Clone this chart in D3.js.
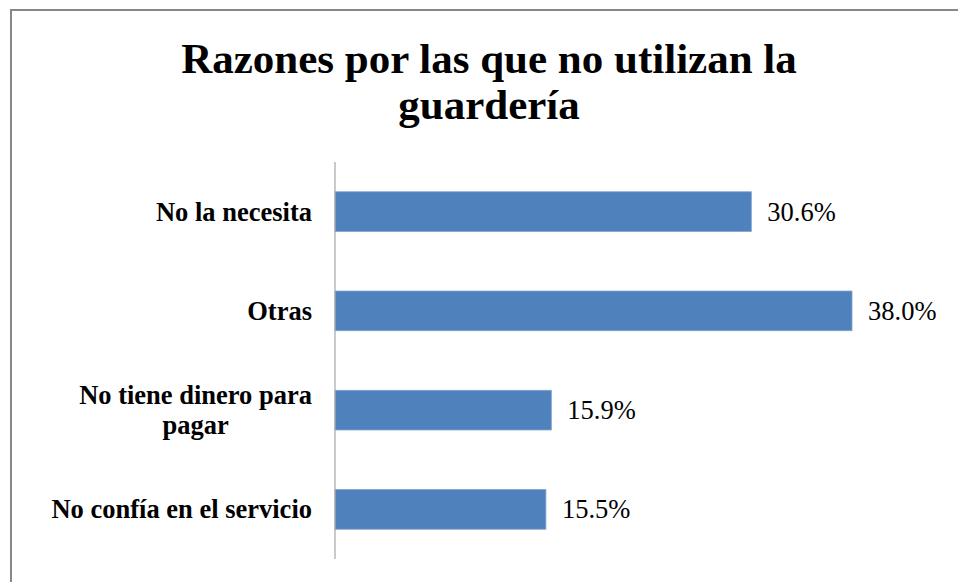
<!DOCTYPE html>
<html>
<head>
<meta charset="utf-8">
<script src="https://cdn.jsdelivr.net/npm/d3@7"></script>
<style>
  body { margin: 0; background: #fff; }
</style>
</head>
<body>
<div id="chart"></div>
<script>
var categories = ['No la necesita', 'Otras', 'No tiene dinero para pagar', 'No confía en el servicio'];
var categoryLines = [['No la necesita'], ['Otras'], ['No tiene dinero para', 'pagar'], ['No confía en el servicio']];
var values = [30.6, 38.0, 15.9, 15.5];
var titleLines = ['Razones por las que no utilizan la', 'guardería'];

var w = 958;
var h = 582;
var plotLeft = 335;
var plotTop = 162;
var plotBottom = 559;
var labelRight = 312;

var svg = d3.select('#chart')
  .append('svg')
  .attr('width', w)
  .attr('height', h);

// frame (right and bottom edges fall outside the picture)
svg.append('path')
  .attr('d', 'M11,' + h + ' V10 H' + w)
  .attr('fill', 'none')
  .attr('stroke', '#878787')
  .attr('stroke-width', 2);

// title
svg.selectAll('text.title')
  .data(titleLines)
  .enter()
  .append('text')
  .attr('class', 'title')
  .text(function (d) { return d; })
  .attr('x', 489)
  .attr('y', function (d, i) { return 73 + i * 46; })
  .attr('text-anchor', 'middle')
  .attr('font-family', 'Liberation Serif, Times New Roman, serif')
  .attr('font-weight', 'bold')
  .attr('font-size', '43px')
  .attr('fill', '#000');

var x = d3.scaleLinear()
  .domain([0, 38])
  .range([plotLeft, 852]);

var y = d3.scaleBand()
  .domain(categories)
  .range([plotTop, plotBottom])
  .paddingInner(0.6)
  .paddingOuter(0.3);

// bars
svg.selectAll('.bar')
  .data(values)
  .enter()
  .append('rect')
  .attr('class', 'bar')
  .attr('x', x(0))
  .attr('y', function (d, i) { return y(categories[i]); })
  .attr('width', function (d) { return x(d) - x(0); })
  .attr('height', y.bandwidth())
  .attr('fill', '#4F81BD')
  .attr('stroke', '#7FA3D0')
  .attr('stroke-width', 0.8);

// axis line
svg.append('line')
  .attr('x1', plotLeft)
  .attr('x2', plotLeft)
  .attr('y1', plotTop)
  .attr('y2', plotBottom)
  .attr('stroke', '#A6A6A6')
  .attr('stroke-width', 1.2);

// value labels
svg.selectAll('text.value')
  .data(values)
  .enter()
  .append('text')
  .attr('class', 'value')
  .text(function (d) { return d.toFixed(1) + '%'; })
  .attr('x', function (d) { return x(d) + 16; })
  .attr('y', function (d, i) { return y(categories[i]) + y.bandwidth() / 2 + 9; })
  .attr('font-family', 'Liberation Serif, Times New Roman, serif')
  .attr('font-size', '26.5px')
  .attr('fill', '#000');

// category labels (multi-line labels are centred within their block)
var labels = svg.selectAll('text.cat')
  .data(categoryLines)
  .enter()
  .append('text')
  .attr('class', 'cat')
  .attr('text-anchor', 'middle')
  .attr('font-family', 'Liberation Serif, Times New Roman, serif')
  .attr('font-weight', 'bold')
  .attr('font-size', '26.5px')
  .attr('fill', '#000')
  .attr('y', function (d, i) {
    var c = y(categories[i]) + y.bandwidth() / 2 + 9;
    return c - (d.length - 1) * 15;
  });

labels.selectAll('tspan')
  .data(function (d) { return d; })
  .enter()
  .append('tspan')
  .attr('x', 0)
  .attr('dy', function (d, i) { return i === 0 ? 0 : 30; })
  .text(function (d) { return d; });

labels.each(function () {
  var maxW = 0;
  d3.select(this).selectAll('tspan').each(function () {
    maxW = Math.max(maxW, this.getComputedTextLength());
  });
  d3.select(this).selectAll('tspan').attr('x', labelRight - maxW / 2);
});
</script>
</body>
</html>
